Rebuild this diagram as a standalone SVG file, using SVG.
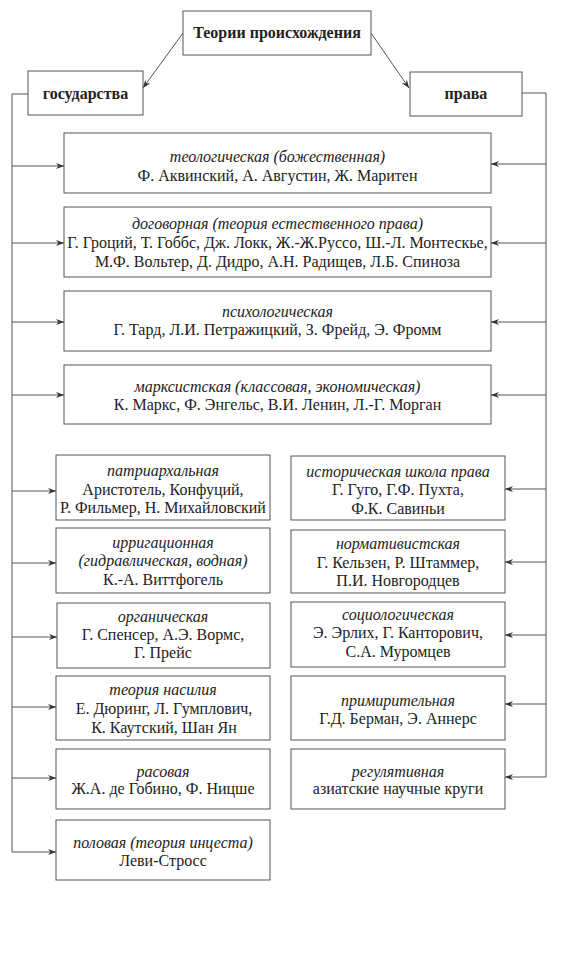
<svg xmlns="http://www.w3.org/2000/svg" width="579" height="970" viewBox="0 0 579 970">
<defs>
<marker id="ah" markerWidth="9" markerHeight="7" refX="8" refY="3.5" orient="auto" markerUnits="userSpaceOnUse">
<path d="M0,0.5 L8,3.5 L0,6.5 L2.5,3.5 z" fill="#333"/>
</marker>
</defs>
<style>
.box{fill:#fff;stroke:#555;stroke-width:1}
.ln{fill:none;stroke:#555;stroke-width:1}
.t{font-family:"Liberation Serif","Times New Roman",serif;font-size:16px;fill:#222;text-anchor:middle}
.i{font-style:italic}
.b{font-weight:bold;font-size:16px}
</style>
<rect width="579" height="970" fill="#fff"/>
<g id="connectors">
<path class="ln" d="M183,33 L143,88" marker-end="url(#ah)"/>
<path class="ln" d="M371,33 L409,88" marker-end="url(#ah)"/>
<path class="ln" d="M28,94 H12 V852"/>
<path class="ln" d="M522,93 H546 V777"/>
<path class="ln" d="M12,166 H64" marker-end="url(#ah)"/>
<path class="ln" d="M12,243 H64" marker-end="url(#ah)"/>
<path class="ln" d="M12,322 H64" marker-end="url(#ah)"/>
<path class="ln" d="M12,395 H64" marker-end="url(#ah)"/>
<path class="ln" d="M12,491 H56" marker-end="url(#ah)"/>
<path class="ln" d="M12,563 H56" marker-end="url(#ah)"/>
<path class="ln" d="M12,637 H57" marker-end="url(#ah)"/>
<path class="ln" d="M12,707 H56" marker-end="url(#ah)"/>
<path class="ln" d="M12,778 H56" marker-end="url(#ah)"/>
<path class="ln" d="M12,852 H56" marker-end="url(#ah)"/>
<path class="ln" d="M546,164 H491" marker-end="url(#ah)"/>
<path class="ln" d="M546,243 H491" marker-end="url(#ah)"/>
<path class="ln" d="M546,322 H491" marker-end="url(#ah)"/>
<path class="ln" d="M546,395 H491" marker-end="url(#ah)"/>
<path class="ln" d="M546,489 H505" marker-end="url(#ah)"/>
<path class="ln" d="M546,562 H505" marker-end="url(#ah)"/>
<path class="ln" d="M546,635 H505" marker-end="url(#ah)"/>
<path class="ln" d="M546,704 H505" marker-end="url(#ah)"/>
<path class="ln" d="M546,777 H505" marker-end="url(#ah)"/>
</g>
<g id="n-title">
<rect class="box" x="183" y="11" width="188" height="44"/>
<text class="t b" x="277" y="38">Теории происхождения</text>
</g>
<g id="n-state">
<rect class="box" x="28" y="71" width="115" height="44"/>
<text class="t b" x="85.5" y="99">государства</text>
</g>
<g id="n-law">
<rect class="box" x="410" y="72" width="112" height="44"/>
<text class="t b" x="466" y="99">права</text>
</g>
<g id="n-theo">
<rect class="box" x="64" y="133" width="427" height="60"/>
<text class="t i" x="277.5" y="162">теологическая (божественная)</text>
<text class="t" x="277.5" y="181">Ф. Аквинский, А. Августин, Ж. Маритен</text>
</g>
<g id="n-dog">
<rect class="box" x="64" y="207" width="427" height="70"/>
<text class="t i" x="277.5" y="229">договорная (теория естественного права)</text>
<text class="t" x="277.5" y="248">Г. Гроций, Т. Гоббс, Дж. Локк, Ж.-Ж.Руссо, Ш.-Л. Монтескье,</text>
<text class="t" x="277.5" y="267">М.Ф. Вольтер, Д. Дидро, А.Н. Радищев, Л.Б. Спиноза</text>
</g>
<g id="n-psy">
<rect class="box" x="64" y="291" width="427" height="60"/>
<text class="t i" x="277.5" y="317">психологическая</text>
<text class="t" x="277.5" y="335">Г. Тард, Л.И. Петражицкий, З. Фрейд, Э. Фромм</text>
</g>
<g id="n-marx">
<rect class="box" x="64" y="365" width="427" height="59"/>
<text class="t i" x="277.5" y="392">марксистская (классовая, экономическая)</text>
<text class="t" x="277.5" y="410">К. Маркс, Ф. Энгельс, В.И. Ленин, Л.-Г. Морган</text>
</g>
<g id="n-patr">
<rect class="box" x="56" y="455" width="214" height="65"/>
<text class="t i" x="163" y="476">патриархальная</text>
<text class="t" x="163" y="495">Аристотель, Конфуций,</text>
<text class="t" x="163" y="513">Р. Фильмер, Н. Михайловский</text>
</g>
<g id="n-irr">
<rect class="box" x="56" y="528" width="214" height="65"/>
<text class="t i" x="163" y="548">ирригационная</text>
<text class="t i" x="163" y="566">(гидравлическая, водная)</text>
<text class="t" x="163" y="585">К.-А. Виттфогель</text>
</g>
<g id="n-org">
<rect class="box" x="57" y="603" width="213" height="65"/>
<text class="t i" x="163" y="622">органическая</text>
<text class="t" x="163" y="640">Г. Спенсер, А.Э. Вормс,</text>
<text class="t" x="163" y="658">Г. Прейс</text>
</g>
<g id="n-viol">
<rect class="box" x="56" y="676" width="214" height="64"/>
<text class="t i" x="163" y="695">теория насилия</text>
<text class="t" x="164" y="714">Е. Дюринг, Л. Гумплович,</text>
<text class="t" x="164" y="733">К. Каутский, Шан Ян</text>
</g>
<g id="n-race">
<rect class="box" x="56" y="749" width="214" height="60"/>
<text class="t i" x="163" y="777">расовая</text>
<text class="t" x="163" y="794">Ж.А. де Гобино, Ф. Ницше</text>
</g>
<g id="n-sex">
<rect class="box" x="56" y="820" width="214" height="60"/>
<text class="t i" x="163" y="848">половая (теория инцеста)</text>
<text class="t" x="163" y="866">Леви-Стросс</text>
</g>
<g id="n-hist">
<rect class="box" x="291" y="456" width="214" height="64"/>
<text class="t i" x="398" y="477">историческая школа права</text>
<text class="t" x="398" y="495">Г. Гуго, Г.Ф. Пухта,</text>
<text class="t" x="398" y="514">Ф.К. Савиньи</text>
</g>
<g id="n-norm">
<rect class="box" x="291" y="530" width="214" height="63"/>
<text class="t i" x="398" y="549">нормативистская</text>
<text class="t" x="398" y="568">Г. Кельзен, Р. Штаммер,</text>
<text class="t" x="398" y="586">П.И. Новгородцев</text>
</g>
<g id="n-soc">
<rect class="box" x="291" y="602" width="214" height="65"/>
<text class="t i" x="398" y="620">социологическая</text>
<text class="t" x="398" y="638">Э. Эрлих, Г. Канторович,</text>
<text class="t" x="398" y="657">С.А. Муромцев</text>
</g>
<g id="n-recon">
<rect class="box" x="291" y="676" width="214" height="64"/>
<text class="t i" x="398" y="706">примирительная</text>
<text class="t" x="398" y="724">Г.Д. Берман, Э. Аннерс</text>
</g>
<g id="n-reg">
<rect class="box" x="291" y="749" width="214" height="60"/>
<text class="t i" x="398" y="777">регулятивная</text>
<text class="t" x="398" y="794">азиатские научные круги</text>
</g>
</svg>
